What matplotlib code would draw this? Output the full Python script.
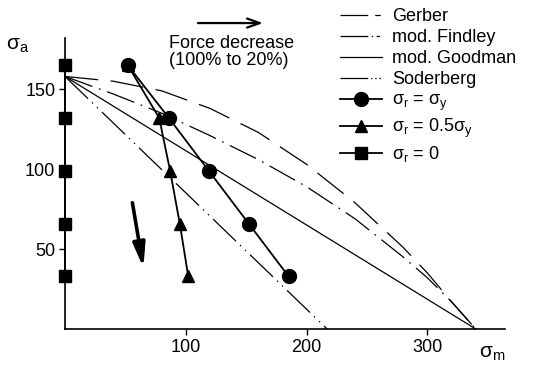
import numpy as np
import matplotlib
matplotlib.use('Agg')
import matplotlib.pyplot as plt
from matplotlib.lines import Line2D

plt.rcParams['font.family'] = ['Liberation Sans', 'DejaVu Sans']
plt.rcParams['font.size'] = 13
plt.rcParams['mathtext.fontset'] = 'custom'
plt.rcParams['mathtext.rm'] = 'Liberation Sans'
plt.rcParams['mathtext.it'] = 'Liberation Sans'
plt.rcParams['mathtext.default'] = 'regular'
plt.rcParams['lines.scale_dashes'] = False

# theoretical curves
gerber_m = [0, 40, 80, 120, 160, 200, 240, 280, 300, 320, 340]
gerber_a = [158, 155, 149, 138, 123, 103, 79, 51, 35, 17, 0]
findley_m = [0, 40, 80, 120, 160, 200, 240, 280, 300, 320, 340]
findley_a = [158, 147, 135, 121, 106, 89, 69, 45, 32, 17, 0]
goodman_m = [0, 340]
goodman_a = [158, 0]
soderberg_m = [0, 217]
soderberg_a = [158, 0]

# measured points
sa_pts = [165, 132, 99, 66, 33]
sm_full = [52, 86, 119, 152, 185]     # sigma_r = sigma_y
sm_half = [52, 78, 87, 95, 102]       # sigma_r = 0.5 sigma_y
sm_zero = [0, 0, 0, 0, 0]             # sigma_r = 0

labels = ['Gerber', 'mod. Findley', 'mod. Goodman', 'Soderberg',
          r'$\sigma_r$ = $\sigma_y$', r'$\sigma_r$ = 0.5$\sigma_y$', r'$\sigma_r$ = 0']

fig = plt.figure(figsize=(5.37, 3.66), dpi=100)
ax = fig.add_axes([0.121, 0.101, 0.819, 0.795])

ax.plot(gerber_m, gerber_a, color='black', lw=0.9, dashes=(24, 9))
ax.plot(findley_m, findley_a, color='black', lw=0.9, dashes=(21, 5, 1.2, 5))
ax.plot(goodman_m, goodman_a, color='black', lw=0.9)
ax.plot(soderberg_m, soderberg_a, color='black', lw=0.9, dashes=(23, 4, 1, 4, 1, 4))

ax.plot(sm_full, sa_pts, color='black', lw=1.3, marker='o', ms=10, clip_on=False)
ax.plot(sm_half, sa_pts, color='black', lw=1.3, marker='^', ms=9, clip_on=False)
ax.plot(sm_zero, sa_pts, color='black', lw=1.3, marker='s', ms=9, clip_on=False, zorder=5)

# legend samples (shorter dash patterns than in the plot)
handles = [
    Line2D([], [], color='black', lw=0.9, dashes=(20, 5, 4, 5)),
    Line2D([], [], color='black', lw=0.9, dashes=(20, 2.5, 1, 2.5, 2.5, 3)),
    Line2D([], [], color='black', lw=0.9),
    Line2D([], [], color='black', lw=0.9, dashes=(20, 2, 1, 2, 1, 2, 1, 3)),
    Line2D([], [], color='black', lw=1.3, marker='o', ms=10),
    Line2D([], [], color='black', lw=1.3, marker='^', ms=9),
    Line2D([], [], color='black', lw=1.3, marker='s', ms=9),
]

ax.set_xlim(0, 364)
ax.set_ylim(0, 182)
ax.set_xticks([100, 200, 300])
ax.set_yticks([50, 100, 150])
ax.spines['top'].set_visible(False)
ax.spines['right'].set_visible(False)
for s in ['left', 'bottom']:
    ax.spines[s].set_linewidth(1.2)
ax.tick_params(direction='out', length=4, width=1, labelsize=13, pad=3)

leg = ax.legend(handles, labels, loc='upper left',
                bbox_to_anchor=(340 / 537, 1 - 8 / 366),
                bbox_transform=fig.transFigure, frameon=False, borderpad=0,
                borderaxespad=0, handlelength=2.3, handletextpad=0.6,
                labelspacing=0.22, fontsize=13)

fig.text(0.012, 0.877, r'$\sigma_a$', fontsize=15, va='center', ha='left')
fig.text(0.916, 0.035, r'$\sigma_m$', fontsize=15, va='center', ha='center')

fig.text(169 / 537, 0.859, 'Force decrease\n(100% to 20%)', fontsize=13,
         va='center', ha='left', linespacing=1.0)
ax.annotate('', xy=(263 / 537, 0.937), xytext=(198 / 537, 0.937),
            xycoords='figure fraction', textcoords='figure fraction',
            arrowprops=dict(arrowstyle='->,head_length=0.7,head_width=0.25',
                            lw=1.6, color='black', shrinkA=0, shrinkB=0))
ax.annotate('', xy=(64.9, 38.4), xytext=(55.8, 79),
            arrowprops=dict(arrowstyle='-|>,head_length=1.1,head_width=0.28',
                            lw=2.6, color='black', shrinkA=0, shrinkB=0))

fig.savefig('out.png', dpi=100)
